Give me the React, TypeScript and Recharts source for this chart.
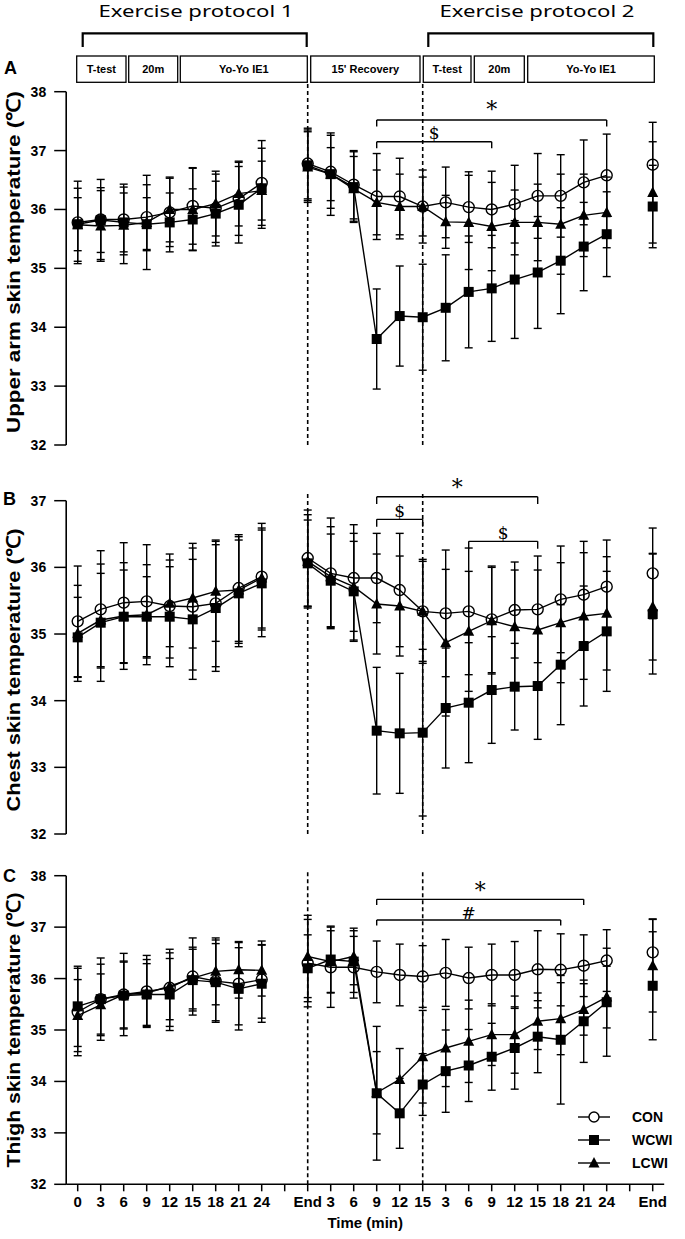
import React from "react";
import {
    LineChart,
    Line,
    XAxis,
    YAxis,
    ErrorBar,
    ReferenceLine,
    ReferenceDot,
    Legend,
} from "recharts";

// x categories (index based, blanks at 9 and 24)
const xLabels = ["0", "3", "6", "9", "12", "15", "18", "21", "24", "", "End", "3", "6", "9", "12", "15", "3", "6", "9", "12", "15", "18", "21", "24", "", "End"];

// A - upper arm
const conA = [35.78, 35.83, 35.83, 35.87, 35.95, 36.06, 36.02, 36.18, 36.45, null, 36.78, 36.64, 36.42, 36.22, 36.22, 36.05, 36.12, 36.04, 36.0, 36.09, 36.23, 36.23, 36.46, 36.58, null, 36.76];
const wcwiA = [35.75, 35.82, 35.78, 35.75, 35.78, 35.83, 35.93, 36.08, 36.36, null, 36.75, 36.6, 36.38, 33.8, 34.19, 34.17, 34.33, 34.6, 34.66, 34.81, 34.93, 35.13, 35.37, 35.58, null, 36.05];
const lcwiA = [35.74, 35.72, 35.73, 35.78, 36.0, 36.0, 36.1, 36.27, 36.32, null, 36.72, 36.6, 36.35, 36.12, 36.05, 36.05, 35.79, 35.78, 35.71, 35.78, 35.78, 35.75, 35.9, 35.95, null, 36.29];
const sdConA = [0.7, 0.68, 0.6, 0.55, 0.58, 0.65, 0.58, 0.62, 0.72, null, 0.6, 0.62, 0.58, 0.73, 0.65, 0.62, 0.6, 0.6, 0.65, 0.66, 0.72, 0.7, 0.72, 0.7, null, 0.72];
const sdWcwiA = [0.45, 0.55, 0.5, 0.45, 0.5, 0.52, 0.55, 0.65, 0.68, null, 0.6, 0.7, 0.6, 0.85, 0.85, 0.9, 0.9, 0.95, 0.9, 1.0, 0.95, 0.9, 0.75, 0.72, null, 0.7];
const sdLcwiA = [0.62, 0.6, 0.65, 0.8, 0.55, 0.7, 0.55, 0.55, 0.5, null, 0.6, 0.45, 0.55, 0.55, 0.55, 0.5, 0.45, 0.8, 0.75, 0.55, 0.65, 0.85, 0.7, 0.6, null, 0.86];

// B - chest
const conB = [35.19, 35.37, 35.47, 35.49, 35.42, 35.41, 35.46, 35.69, 35.86, null, 36.14, 35.91, 35.84, 35.84, 35.66, 35.34, 35.31, 35.34, 35.22, 35.36, 35.37, 35.52, 35.59, 35.71, null, 35.91];
const wcwiB = [34.95, 35.17, 35.26, 35.26, 35.26, 35.22, 35.39, 35.61, 35.76, null, 36.06, 35.8, 35.64, 33.55, 33.51, 33.52, 33.89, 33.97, 34.16, 34.21, 34.22, 34.54, 34.82, 35.04, null, 35.3];
const lcwiB = [35.01, 35.21, 35.27, 35.29, 35.46, 35.54, 35.64, 35.66, 35.84, null, 36.09, 35.86, 35.71, 35.45, 35.42, 35.34, 34.87, 35.04, 35.2, 35.11, 35.06, 35.17, 35.27, 35.31, null, 35.41];
const sdConB = [0.83, 0.88, 0.9, 0.85, 0.78, 0.95, 0.95, 0.8, 0.8, null, 0.72, 0.83, 0.8, 0.67, 0.85, 0.78, 0.95, 0.95, 0.8, 0.72, 0.8, 0.8, 0.8, 0.7, null, 0.68];
const sdWcwiB = [0.6, 0.88, 0.7, 0.6, 0.75, 0.9, 0.95, 0.8, 0.8, null, 0.65, 0.7, 0.75, 0.95, 0.9, 1.25, 0.9, 0.9, 0.8, 0.65, 0.8, 0.9, 0.9, 0.9, null, 0.9];
const sdLcwiB = [0.72, 0.7, 0.8, 0.75, 0.65, 0.75, 0.75, 0.8, 0.75, null, 0.7, 0.75, 0.8, 0.75, 0.75, 0.75, 1.1, 0.9, 0.8, 0.85, 0.9, 0.9, 0.95, 0.85, null, 0.8];

// C - thigh
const conC = [35.35, 35.6, 35.69, 35.75, 35.82, 36.04, 35.95, 35.9, 35.98, null, 36.3, 36.22, 36.22, 36.13, 36.07, 36.04, 36.11, 36.01, 36.07, 36.07, 36.18, 36.17, 36.25, 36.35, null, 36.51];
const wcwiC = [35.46, 35.6, 35.67, 35.69, 35.69, 35.97, 35.93, 35.8, 35.9, null, 36.2, 36.37, 36.33, 33.77, 33.38, 33.94, 34.2, 34.31, 34.48, 34.65, 34.87, 34.81, 35.17, 35.54, null, 35.86];
const lcwiC = [35.28, 35.49, 35.69, 35.72, 35.85, 36.01, 36.14, 36.17, 36.16, null, 36.43, 36.33, 36.43, 33.78, 34.04, 34.48, 34.65, 34.78, 34.91, 34.91, 35.17, 35.22, 35.4, 35.64, null, 36.25];
const sdConC = [0.85, 0.8, 0.8, 0.7, 0.75, 0.75, 0.8, 0.8, 0.75, null, 0.85, 0.78, 0.6, 0.6, 0.6, 0.6, 0.65, 0.6, 0.6, 0.65, 0.75, 0.7, 0.6, 0.6, null, 0.65];
const sdWcwiC = [0.78, 0.68, 0.65, 0.6, 0.7, 0.6, 0.75, 0.8, 0.75, null, 0.65, 0.65, 0.6, 1.3, 0.68, 0.6, 0.8, 0.7, 0.65, 0.8, 0.7, 1.25, 0.8, 1.05, null, 1.05];
const sdLcwiC = [0.7, 0.6, 0.65, 0.65, 0.65, 0.6, 0.65, 0.55, 0.5, null, 0.8, 0.6, 0.55, 0.8, 0.6, 0.9, 0.75, 0.8, 0.6, 0.75, 0.55, 0.7, 0.5, 0.6, null, 0.9];

// significance brackets
const bracketsA = [
    { from: 13, to: 23, y: 37.52, text: "*", textY: 37.7 },
    { from: 13, to: 18, y: 37.15, text: "$", textY: 37.3 },
];
const bracketsB = [
    { from: 13, to: 20, y: 37.06, text: "*", textY: 37.2 },
    { from: 13, to: 15, y: 36.72, text: "$", textY: 36.85 },
    { from: 17, to: 20, y: 36.39, text: "$", textY: 36.52 },
];
const bracketsC = [
    { from: 13, to: 22, y: 37.54, text: "*", textY: 37.72 },
    { from: 13, to: 21, y: 37.14, text: "#", textY: 37.28 },
];

const tickIdx = xLabels.map((_, i) => i);
const boldFont = "Liberation Sans, Arial, sans-serif";
const narrowFont = "Liberation Sans Narrow, Liberation Sans, Arial, sans-serif";

const makeRows = (con, wcwi, lcwi, sdCon, sdWcwi, sdLcwi) =>
    xLabels.map((label, i) => ({
        i,
        label,
        con: con[i],
        wcwi: wcwi[i],
        lcwi: lcwi[i],
        conSd: sdCon[i],
        wcwiSd: sdWcwi[i],
        lcwiSd: sdLcwi[i],
    }));

const ok = (v) => typeof v === "number" && Number.isFinite(v);

const CircleDot = (p) => {
    if (!ok(p.cx) || !ok(p.cy) || p.value == null) return <g key={`c${p.index}`} />;
    return <circle key={`c${p.index}`} cx={p.cx} cy={p.cy} r={5.5} fill="none" stroke="#000" strokeWidth={1.4} />;
};
const SquareDot = (p) => {
    if (!ok(p.cx) || !ok(p.cy) || p.value == null) return <g key={`s${p.index}`} />;
    return <rect key={`s${p.index}`} x={p.cx - 5} y={p.cy - 5} width={10} height={10} fill="#000" />;
};
const TriangleDot = (p) => {
    if (!ok(p.cx) || !ok(p.cy) || p.value == null) return <g key={`t${p.index}`} />;
    const { cx, cy } = p;
    return <polygon key={`t${p.index}`} points={`${cx},${cy - 6} ${cx - 5.5},${cy + 4.5} ${cx + 5.5},${cy + 4.5}`} fill="#000" />;
};

const LegendBox = () => (
    <div style={{ display: "flex", flexDirection: "column" }}>
        {["CON", "WCWI", "LCWI"].map((name, k) => (
            <div key={name} style={{ display: "flex", alignItems: "center", height: 23.3 }}>
                <svg width={36} height={14}>
                    <line x1={2} y1={7} x2={34} y2={7} stroke="#000" strokeWidth={1.4} />
                    {k === 0 && <circle cx={18} cy={7} r={5} fill="#fff" stroke="#000" strokeWidth={1.4} />}
                    {k === 1 && <rect x={13} y={2} width={10} height={10} fill="#000" />}
                    {k === 2 && <polygon points="18,1 12.5,11.5 23.5,11.5" fill="#000" />}
                </svg>
                <span style={{ marginLeft: 20, fontFamily: boldFont, fontWeight: "bold", fontSize: 14 }}>{name}</span>
            </div>
        ))}
    </div>
);

const Panel = ({ top, height, margin, domain, ticks, rows, brackets, dashTop, showX, legend }) => {
    const seg = { stroke: "#000", strokeWidth: 1.4, ifOverflow: "visible" };
    return (
        <div style={{ position: "absolute", left: 0, top }}>
            <LineChart width={685} height={height} data={rows} margin={margin}>
                {showX ? (
                    <XAxis
                        dataKey="i"
                        type="number"
                        domain={[-0.5, 25.5]}
                        ticks={tickIdx}
                        interval={0}
                        tickFormatter={(v) => xLabels[v]}
                        tickSize={7}
                        tickMargin={5}
                        height={50}
                        axisLine={{ stroke: "#000", strokeWidth: 1.6 }}
                        tickLine={{ stroke: "#000", strokeWidth: 1.5 }}
                        tick={{ fill: "#000", fontSize: 15, fontWeight: "bold", fontFamily: narrowFont }}
                        label={{ value: "Time (min)", position: "insideBottom", offset: 6, fill: "#000", fontSize: 15, fontWeight: "bold", fontFamily: boldFont }}
                    />
                ) : (
                    <XAxis dataKey="i" type="number" domain={[-0.5, 25.5]} hide />
                )}
                <YAxis
                    type="number"
                    domain={domain}
                    ticks={ticks}
                    interval={0}
                    width={66.2}
                    tickSize={12}
                    tickMargin={8}
                    axisLine={{ stroke: "#000", strokeWidth: 1.6 }}
                    tickLine={{ stroke: "#000", strokeWidth: 1.5 }}
                    tick={{ fill: "#000", fontSize: 14, fontWeight: "bold", fontFamily: narrowFont }}
                />
                <ReferenceLine segment={[{ x: 10, y: domain[0] }, { x: 10, y: dashTop }]} stroke="#000" strokeWidth={1.6} strokeDasharray="4 3" ifOverflow="visible" />
                <ReferenceLine segment={[{ x: 15, y: domain[0] }, { x: 15, y: dashTop }]} stroke="#000" strokeWidth={1.6} strokeDasharray="4 3" ifOverflow="visible" />
                {brackets.flatMap((b, k) => [
                    <ReferenceLine key={`h${k}`} segment={[{ x: b.from, y: b.y }, { x: b.to, y: b.y }]} {...seg} />,
                    <ReferenceLine key={`l${k}`} segment={[{ x: b.from, y: b.y }, { x: b.from, y: b.y - 0.11 }]} {...seg} />,
                    <ReferenceLine key={`r${k}`} segment={[{ x: b.to, y: b.y }, { x: b.to, y: b.y - 0.11 }]} {...seg} />,
                    <ReferenceDot
                        key={`t${k}`}
                        x={(b.from + b.to) / 2}
                        y={b.textY}
                        r={0}
                        ifOverflow="visible"
                        label={{ value: b.text, position: "center", fill: "#000", fontSize: b.text === "*" ? 22 : 17, fontFamily: "DejaVu Serif, Liberation Serif, serif" }}
                    />,
                ])}
                <Line dataKey="lcwi" stroke="#000" strokeWidth={1.4} dot={TriangleDot} activeDot={false} isAnimationActive={false}>
                    <ErrorBar dataKey="lcwiSd" direction="y" width={4} stroke="#000" strokeWidth={1.4} isAnimationActive={false} />
                </Line>
                <Line dataKey="wcwi" stroke="#000" strokeWidth={1.4} dot={SquareDot} activeDot={false} isAnimationActive={false}>
                    <ErrorBar dataKey="wcwiSd" direction="y" width={4} stroke="#000" strokeWidth={1.4} isAnimationActive={false} />
                </Line>
                <Line dataKey="con" stroke="#000" strokeWidth={1.4} dot={CircleDot} activeDot={false} isAnimationActive={false}>
                    <ErrorBar dataKey="conSd" direction="y" width={4} stroke="#000" strokeWidth={1.4} isAnimationActive={false} />
                </Line>
                {legend && (
                    <Legend
                        layout="vertical"
                        align="center"
                        verticalAlign="middle"
                        content={<LegendBox />}
                        wrapperStyle={{ left: 576, top: 265, width: 110 }}
                    />
                )}
            </LineChart>
        </div>
    );
};

const Header = () => {
    const boxes = [
        { x1: 76.7, x2: 126, t: "T-test" },
        { x1: 128.7, x2: 177.7, t: "20m" },
        { x1: 180.3, x2: 307.3, t: "Yo-Yo IE1" },
        { x1: 310.7, x2: 420, t: "15' Recovery" },
        { x1: 423.3, x2: 471, t: "T-test" },
        { x1: 474.3, x2: 524.3, t: "20m" },
        { x1: 527.7, x2: 654.3, t: "Yo-Yo IE1" },
    ];
    const titleFont = "Noto Sans, Open Sans, sans-serif";
    return (
        <svg width={685} height={90} style={{ position: "absolute", left: 0, top: 0 }}>
            <text x={196} y={16.5} textAnchor="middle" fontFamily={titleFont} fontSize={17} textLength={195} lengthAdjust="spacingAndGlyphs">Exercise protocol 1</text>
            <text x={537} y={16.5} textAnchor="middle" fontFamily={titleFont} fontSize={17} textLength={195} lengthAdjust="spacingAndGlyphs">Exercise protocol 2</text>
            <path d="M82.7,47 L82.7,33.3 L306.7,33.3 L306.7,47" fill="none" stroke="#000" strokeWidth={2.2} />
            <path d="M428.3,47 L428.3,33.3 L653.3,33.3 L653.3,47" fill="none" stroke="#000" strokeWidth={2.2} />
            {boxes.map((b, k) => (
                <g key={k}>
                    <rect x={b.x1} y={56} width={b.x2 - b.x1} height={26.3} fill="#fff" stroke="#000" strokeWidth={1.3} />
                    <text x={(b.x1 + b.x2) / 2} y={73} textAnchor="middle" fontFamily={narrowFont} fontWeight="bold" fontSize={11}>{b.t}</text>
                </g>
            ))}
        </svg>
    );
};

const Overlay = () => {
    const yl = (cy, len, t) => (
        <text
            x={0}
            y={0}
            transform={`translate(20, ${cy}) rotate(-90)`}
            textAnchor="middle"
            fontFamily={boldFont}
            fontWeight="bold"
            fontSize={19}
            textLength={len}
            lengthAdjust="spacingAndGlyphs"
        >
            {t}
        </text>
    );
    return (
        <svg width={685} height={1239} style={{ position: "absolute", left: 0, top: 0, pointerEvents: "none" }}>
            <text x={4} y={74} fontFamily={boldFont} fontWeight="bold" fontSize={18}>A</text>
            <text x={3} y={505} fontFamily={boldFont} fontWeight="bold" fontSize={18}>B</text>
            <text x={3} y={882} fontFamily={boldFont} fontWeight="bold" fontSize={18}>C</text>
            {yl(262, 342, "Upper arm skin temperature (℃)")}
            {yl(670, 283, "Chest skin temperature (℃)")}
            {yl(1030, 275, "Thigh skin temperature (℃)")}
        </svg>
    );
};

export default function App() {
    const rowsA = makeRows(conA, wcwiA, lcwiA, sdConA, sdWcwiA, sdLcwiA);
    const rowsB = makeRows(conB, wcwiB, lcwiB, sdConB, sdWcwiB, sdLcwiB);
    const rowsC = makeRows(conC, wcwiC, lcwiC, sdConC, sdWcwiC, sdLcwiC);
    return (
        <div style={{ position: "absolute", left: 0, top: 0, width: 685, height: 1239, background: "#fff" }}>
            <Header />
            <Panel
                top={80}
                height={380}
                margin={{ top: 11.7, right: 20.8, bottom: 15, left: 0 }}
                domain={[32, 38]}
                ticks={[32, 33, 34, 35, 36, 37, 38]}
                rows={rowsA}
                brackets={bracketsA}
                dashTop={38.16}
            />
            <Panel
                top={840}
                height={399}
                margin={{ top: 35.7, right: 20.8, bottom: 4.7, left: 0 }}
                domain={[32, 38]}
                ticks={[32, 33, 34, 35, 36, 37, 38]}
                rows={rowsC}
                brackets={bracketsC}
                dashTop={38.11}
                showX
                legend
            />
            <Panel
                top={460}
                height={392}
                margin={{ top: 40.7, right: 20.8, bottom: 18, left: 0 }}
                domain={[32, 37]}
                ticks={[32, 33, 34, 35, 36, 37]}
                rows={rowsB}
                brackets={bracketsB}
                dashTop={37.12}
            />
            <Overlay />
        </div>
    );
}
